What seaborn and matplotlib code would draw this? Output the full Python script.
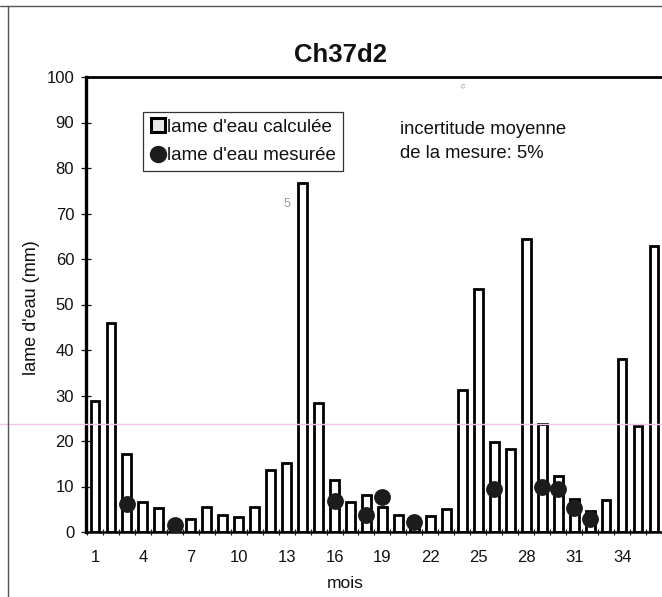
import numpy as np
import pandas as pd
import matplotlib
matplotlib.use('Agg')
import matplotlib.pyplot as plt
from matplotlib.lines import Line2D
import seaborn as sns

# monthly values
months = list(range(1, 37))
lame_calculee = [28.8, 46.0, 17.2, 6.6, 5.2, 1.2, 2.9, 5.4, 3.7, 3.3, 5.4, 13.6,
                 15.1, 76.8, 28.4, 11.5, 6.7, 8.1, 5.4, 3.7, 2.0, 3.5, 5.0, 31.3,
                 53.4, 19.7, 18.3, 64.5, 23.8, 12.4, 7.3, 4.6, 7.0, 38.1, 23.2, 62.8]
mois_mesure = [3, 6, 16, 18, 19, 21, 26, 29, 30, 31, 32]
lame_mesuree = [6.2, 1.5, 6.9, 3.7, 7.6, 2.3, 9.4, 10.0, 9.4, 5.2, 2.9]
tick_mois = [1, 4, 7, 10, 13, 16, 19, 22, 25, 28, 31, 34]

df = pd.DataFrame({'mois': months, 'calc': lame_calculee})
dm = pd.DataFrame({'mois': mois_mesure, 'mes': lame_mesuree})

sns.set_style('white')
plt.rcParams['font.family'] = ['Liberation Sans', 'DejaVu Sans']
plt.rcParams['text.color'] = '#111111'
plt.rcParams['xtick.color'] = '#111111'
plt.rcParams['ytick.color'] = '#111111'
plt.rcParams['axes.labelcolor'] = '#111111'

W, H = 662, 597
fig = plt.figure(figsize=(W / 100, H / 100), dpi=100)
ax = fig.add_axes([86 / W, 65 / H, 1 - 86 / W, 455 / H])

sns.barplot(data=df, x='mois', y='calc', native_scale=True, width=0.55,
            color='white', edgecolor='black', linewidth=2.0, ax=ax, zorder=2)
sns.scatterplot(data=dm, x='mois', y='mes', color='#1c1c1c', edgecolor='#1c1c1c',
                s=125, ax=ax, zorder=3, legend=False)

# pixel mapping: month 1 at x=95, 16.1 px per month
ax.set_xlim(1 + (86 - 95) / 16.1, 1 + (662 - 95) / 16.1)
ax.set_ylim(0, 100)
ax.set_yticks(range(0, 101, 10))
ax.set_xticks(tick_mois)
ax.set_xticklabels([str(m) for m in tick_mois])
ax.set_xticks([m + 0.5 for m in range(0, 37)], minor=True)
ax.tick_params(axis='x', which='major', length=0, labelsize=12, pad=13)
ax.tick_params(axis='x', which='minor', length=5, width=0.8, direction='inout', bottom=True)
ax.tick_params(axis='y', length=7, width=0.9, direction='inout', left=True, labelsize=12, pad=5)

for side in ['left', 'top', 'bottom']:
    ax.spines[side].set_color('black')
ax.spines['left'].set_linewidth(2.4)
ax.spines['top'].set_linewidth(2.0)
ax.spines['bottom'].set_linewidth(1.8)
ax.spines['right'].set_visible(False)

ax.set_xlabel('mois', fontsize=12.5)
ax.xaxis.set_label_coords((345 - 86) / (W - 86), -(576 - 532) / 455, transform=ax.transAxes)
ax.set_ylabel("lame d'eau (mm)", fontsize=13)
ax.yaxis.set_label_coords(-(86 - 40) / (W - 86), (532 - 308) / 455)

fig.text(340 / W, 1 - 55 / H, 'Ch37d2', fontsize=18.5, fontweight='bold',
         ha='center', va='center')

handles = [Line2D([], [], marker='s', linestyle='none', markersize=9.5,
                  markerfacecolor='#e8e8e8', markeredgecolor='black', markeredgewidth=2.2),
           Line2D([], [], marker='o', linestyle='none', markersize=11.5,
                  markerfacecolor='#1c1c1c', markeredgecolor='#1c1c1c')]
leg = ax.legend(handles, ["lame d'eau calculée", "lame d'eau mesurée"],
                loc='upper left', bbox_to_anchor=(143 / W, 1 - 112 / H),
                bbox_transform=fig.transFigure, fontsize=13.5, frameon=True,
                fancybox=False, borderpad=0.35, handletextpad=0.1, handlelength=0.85,
                labelspacing=0.6, borderaxespad=0)
leg.get_frame().set_edgecolor('black')
leg.get_frame().set_linewidth(0.9)

fig.text(400 / W, 1 - 121 / H, 'incertitude moyenne\nde la mesure: 5%',
         fontsize=13.3, ha='left', va='top', linespacing=1.55)

# scan artefacts
fig.text(287 / W, 1 - 204 / H, '5', fontsize=9, color='#9a9a9a', ha='center', va='center')
fig.text(463 / W, 1 - 88 / H, "ᶜ", fontsize=9, color='#9a9a9a', ha='center', va='center')

# outer frame of the scanned page and faint pink scan line
fig.add_artist(Line2D([0, 1], [1 - 6 / H, 1 - 6 / H], transform=fig.transFigure,
                      color='#555555', linewidth=1.0))
fig.add_artist(Line2D([8 / W, 8 / W], [0, 1 - 6 / H], transform=fig.transFigure,
                      color='#555555', linewidth=1.0))
fig.add_artist(Line2D([0, 1], [1 - 424 / H, 1 - 424 / H], transform=fig.transFigure,
                      color='#f3c6e6', linewidth=1.0, zorder=0.5))

fig.savefig('out.png', dpi=100)
